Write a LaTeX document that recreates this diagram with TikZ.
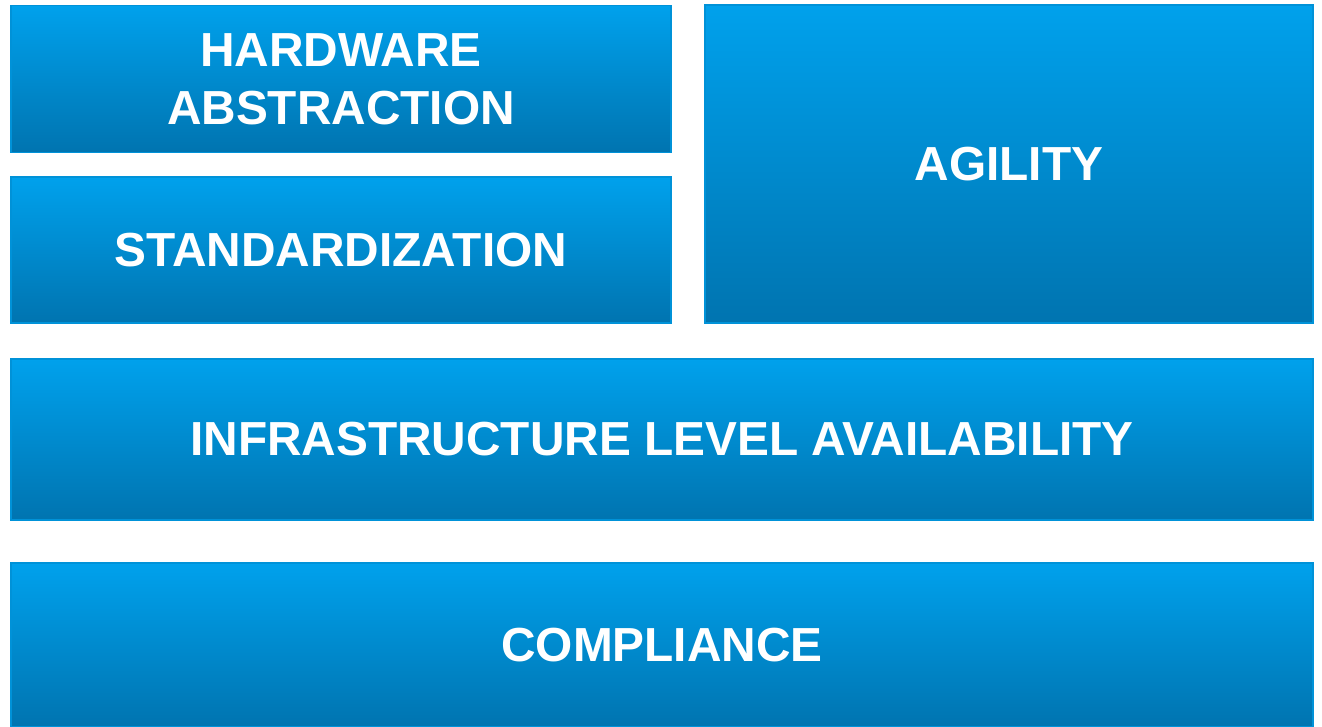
\documentclass[tikz,border=0pt]{standalone}
\usepackage{fontspec}
\setmainfont{Liberation Sans}
\definecolor{boxtop}{RGB}{0,161,236}
\definecolor{boxbot}{RGB}{0,116,176}
\definecolor{boxline}{RGB}{0,146,216}
\begin{document}
\begin{tikzpicture}[x=1pt,y=-1pt,
  panel/.style={draw=boxline, line width=1.5pt, top color=boxtop, bottom color=boxbot,
    text=white, font=\fontsize{47.8}{58}\selectfont\bfseries, align=center,
    inner sep=0pt, outer sep=0pt}]
\useasboundingbox (0,0) rectangle (1322,726);
\node[panel, minimum width=660pt, minimum height=147pt] (hw) at (341,79) {HARDWARE\\ABSTRACTION};
\node[panel, minimum width=660pt, minimum height=146pt] (std) at (341,250) {STANDARDIZATION};
\node[panel, minimum width=608pt, minimum height=318pt] (ag) at (1009,164) {AGILITY};
\node[panel, minimum width=1302pt, minimum height=161pt] (inf) at (662,439.5) {INFRASTRUCTURE LEVEL AVAILABILITY};
\node[panel, minimum width=1302pt, minimum height=164pt] (comp) at (662,645) {COMPLIANCE};
\end{tikzpicture}
\end{document}
